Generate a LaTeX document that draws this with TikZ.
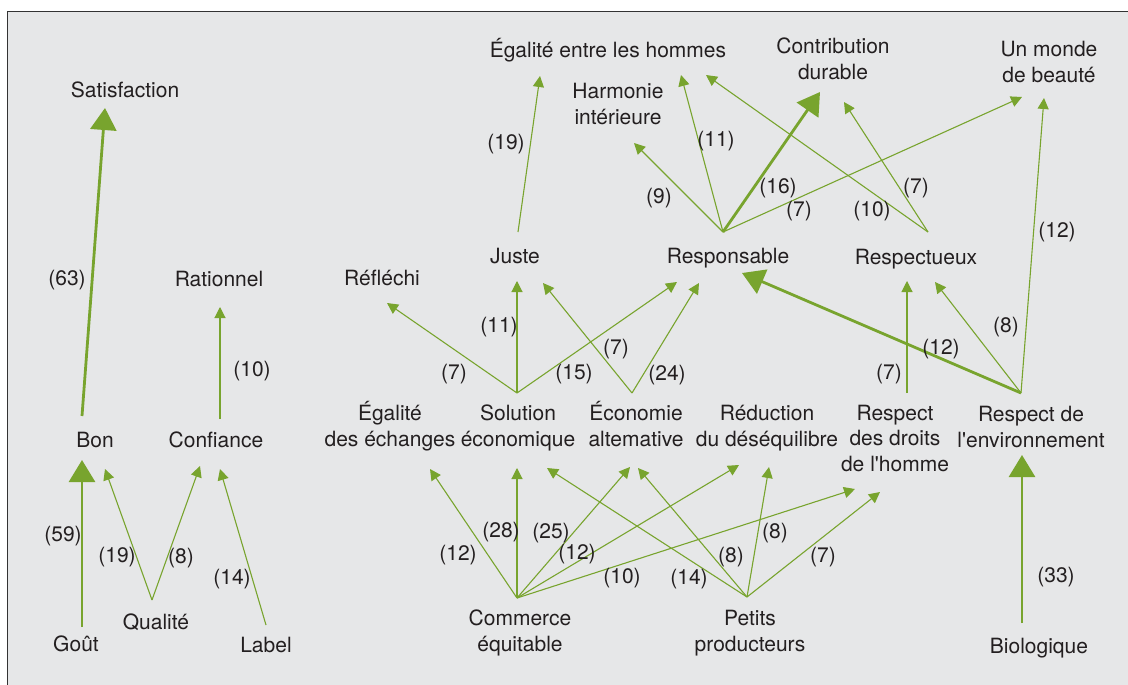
\documentclass[tikz,border=0pt]{standalone}
\usepackage{fontspec}
\newfontfamily\diagfont{TeX Gyre Heros}
\usetikzlibrary{arrows.meta}
\definecolor{panel}{HTML}{E6E7E8}
\definecolor{leaf}{HTML}{78A42E}
\definecolor{ink}{HTML}{231F20}
\begin{document}
\begin{tikzpicture}[x=1pt,y=-1pt,
  term/.style={font=\diagfont\fontsize{21}{25.5}\selectfont, text=ink,
    inner sep=0pt, align=center, text height=15pt, text depth=0pt},
  % multi-line terms: the box spans from the first cap line to the last baseline
  term2/.style={term, text height=40.5pt},
  term3/.style={term, text height=66pt},
  weight/.style={term},
  link/.style={draw=leaf, line width=1.1pt, -{Triangle[length=11pt,width=11pt]}},
  strong/.style={draw=leaf, line width=2.8pt, -{Triangle[length=22pt,width=26pt]}},
]
\useasboundingbox (0,0) rectangle (1128,685);
\clip (0,0) rectangle (1128,685);
\fill[white] (0,0) rectangle (1128,685);
\draw[fill=panel, draw=black!80, line width=1pt] (7,12) rectangle (1140,700);

% ---- terms ----
\node[term] (sat) at (125,90) {Satisfaction};
\node[term] (rat) at (219,279) {Rationnel};
\node[term] (bon) at (95,440) {Bon};
\node[term] (conf) at (216,440) {Confiance};
\node[term] (gout) at (76,644) {Goût};
\node[term] (qual) at (156,622) {Qualité};
\node[term] (lab) at (266,645) {Label};

\node[term] (egh) at (608,50) {Égalité entre les hommes};
\node[term2] (harm) at (618,104) {Harmonie\\intérieure};
\node[term2] (contrib) at (833,59) {Contribution\\durable};
\node[term2] (monde) at (1049,62) {Un monde\\de beauté};
\node[term] (juste) at (515,256) {Juste};
\node[term] (resp) at (728,256) {Responsable};
\node[term] (respx) at (916,257) {Respectueux};
\node[term] (refl) at (382,278) {Réfléchi};
\node[term2] (egalech) at (390,426) {Égalité\\des échanges};
\node[term2] (sol) at (518,426) {Solution\\économique};
\node[term2] (eco) at (636,426) {Économie\\altemative};
\node[term2] (red) at (767,426) {Réduction\\du déséquilibre};
\node[term3] (droits) at (895,438) {Respect\\des droits\\de l'homme};
\node[term2] (env) at (1031,427) {Respect de\\l'environnement};
\node[term2] (comm) at (520,631) {Commerce\\équitable};
\node[term2] (petits) at (750,631) {Petits\\producteurs};
\node[term] (bio) at (1039,646) {Biologique};

% ---- outgoing ports ----
\coordinate (gout-o) at ([shift={(6,-17)}]gout.center);
\coordinate (bon-o) at ([shift={(-13,-24)}]bon.center);
\coordinate (qual-o) at ([shift={(-4,-22)}]qual.center);
\coordinate (lab-o) at ([shift={(0,-20)}]lab.center);
\coordinate (conf-o) at ([shift={(4,-21)}]conf.center);
\coordinate (juste-o) at ([shift={(3,-24)}]juste.center);
\coordinate (resp-o) at ([shift={(-5,-24)}]resp.center);
\coordinate (respx-o) at ([shift={(12,-25)}]respx.center);
\coordinate (sol-o) at ([shift={(-1,-33)}]sol.center);
\coordinate (eco-o) at ([shift={(-4,-33)}]eco.center);
\coordinate (droits-o) at ([shift={(12,-45)}]droits.center);
\coordinate (env-o) at ([shift={(-10,-34)}]env.center);
\coordinate (comm-o) at ([shift={(-3,-33)}]comm.center);
\coordinate (petits-o) at ([shift={(-3,-34)}]petits.center);
\coordinate (bio-o) at ([shift={(-17,-23)}]bio.center);

% ---- left cluster ----
\draw[strong] (gout-o) -- ([shift={(-13,20)}]bon.center);
\draw[strong] (bon-o) -- ([shift={(-20,18)}]sat.center);
\draw[link] (qual-o) -- ([shift={(10,29)}]bon.center);
\draw[link] (qual-o) -- ([shift={(-16,26)}]conf.center);
\draw[link] (lab-o) -- ([shift={(4,29)}]conf.center);
\draw[link] (conf-o) -- ([shift={(1,28)}]rat.center);

% ---- upper links ----
\draw[link] (juste-o) -- ([shift={(-68,26)}]egh.center);
\draw[link] (resp-o) -- ([shift={(16,39)}]harm.center);
\draw[link] (resp-o) -- ([shift={(73,25)}]egh.center);
\draw[strong] (resp-o) -- ([shift={(-13,33)}]contrib.center);
\draw[link] (resp-o) -- ([shift={(-27,35)}]monde.center);
\draw[link] (respx-o) -- ([shift={(98,25)}]egh.center);
\draw[link] (respx-o) -- ([shift={(11,43)}]contrib.center);

% ---- middle links ----
\draw[link] (sol-o) -- ([shift={(5,25)}]refl.center);
\draw[link] (sol-o) -- ([shift={(2,25)}]juste.center);
\draw[link] (sol-o) -- ([shift={(-51,26)}]resp.center);
\draw[link] (eco-o) -- ([shift={(28,27)}]juste.center);
\draw[link] (eco-o) -- ([shift={(-29,27)}]resp.center);
\draw[link] (droits-o) -- ([shift={(-9,24)}]respx.center);
\draw[strong] (env-o) -- ([shift={(14,17)}]resp.center);
\draw[link] (env-o) -- ([shift={(19,25)}]respx.center);
\draw[link] (env-o) -- ([shift={(-5,36)}]monde.center);

% ---- lower links ----
\draw[link] (comm-o) -- ([shift={(40,43)}]egalech.center);
\draw[link] (comm-o) -- ([shift={(-1,42)}]sol.center);
\draw[link] (comm-o) -- ([shift={(-6,41)}]eco.center);
\draw[link] (comm-o) -- ([shift={(-28,39)}]red.center);
\draw[link] (comm-o) -- ([shift={(-40,51)}]droits.center);
\draw[link] (petits-o) -- ([shift={(29,42)}]sol.center);
\draw[link] (petits-o) -- ([shift={(2,42)}]eco.center);
\draw[link] (petits-o) -- ([shift={(2,41)}]red.center);
\draw[link] (petits-o) -- ([shift={(-15,54)}]droits.center);
\draw[strong] (bio-o) -- ([shift={(-9,28)}]env.center);

% ---- weights ----
\node[weight] (w1) at (67,278) {(63)};
\node[weight] (w2) at (63,534) {(59)};
\node[weight] (w3) at (117,555) {(19)};
\node[weight] (w4) at (181,556) {(8)};
\node[weight] (w5) at (232,577) {(14)};
\node[weight] (w6) at (252,369) {(10)};

\node[weight] (w7) at (506,142) {(19)};
\node[weight] (w8) at (659,196) {(9)};
\node[weight] (w9) at (716,139) {(11)};
\node[weight] (w10) at (778,186) {(16)};
\node[weight] (w11) at (799,209) {(7)};
\node[weight] (w12) at (872,209) {(10)};
\node[weight] (w13) at (916,186) {(7)};
\node[weight] (w14) at (1057,230) {(12)};

\node[weight] (w15) at (454,372) {(7)};
\node[weight] (w16) at (499,325) {(11)};
\node[weight] (w17) at (574,372) {(15)};
\node[weight] (w18) at (616,347) {(7)};
\node[weight] (w19) at (667,373) {(24)};
\node[weight] (w20) at (941,347) {(12)};
\node[weight] (w21) at (1006,325) {(8)};
\node[weight] (w22) at (889,372) {(7)};

\node[weight] (w23) at (458,553) {(12)};
\node[weight] (w24) at (501,530) {(28)};
\node[weight] (w25) at (551,531) {(25)};
\node[weight] (w26) at (577,552) {(12)};
\node[weight] (w27) at (622,576) {(10)};
\node[weight] (w28) at (689,577) {(14)};
\node[weight] (w29) at (731,555) {(8)};
\node[weight] (w30) at (775,531) {(8)};
\node[weight] (w31) at (823,555) {(7)};
\node[weight] (w32) at (1056,575) {(33)};
\end{tikzpicture}
\end{document}
